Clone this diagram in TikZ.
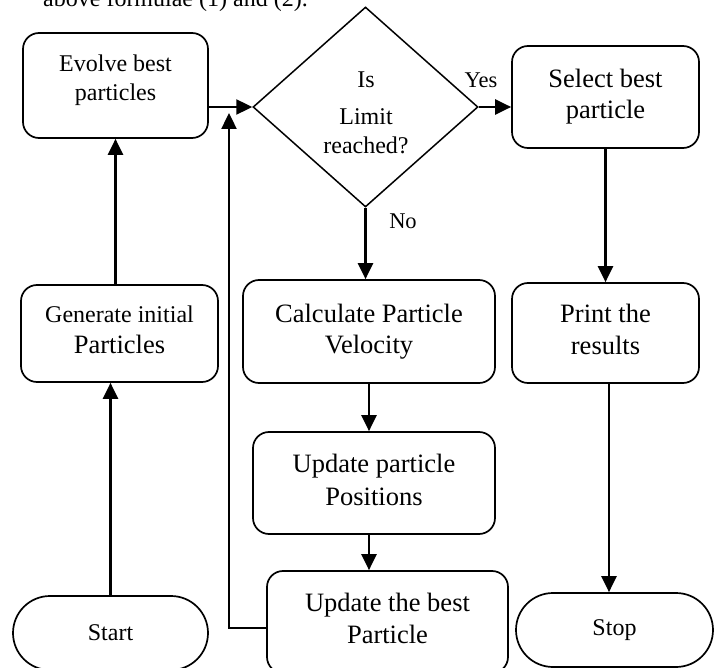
\documentclass[tikz,border=0pt]{standalone}
\usepackage{fontspec}
\setmainfont{Liberation Serif}
\usetikzlibrary{shapes.geometric,shapes.misc,arrows.meta}
\newcommand{\fbig}{\fontsize{26.5}{31}\selectfont}
\newcommand{\fsmall}{\fontsize{24}{29}\selectfont}
\newcommand{\boxtext}[2]{\raisebox{#1}[\height][\depth]{\begin{tabular}{@{}c@{}}#2\end{tabular}}}
\begin{document}
\begin{tikzpicture}[x=1pt,y=-1pt,
  box/.style={draw,line width=1.7pt,rounded corners=16pt,align=center,inner sep=0pt,font=\fbig},
  term/.style={draw,line width=1.7pt,rounded rectangle,align=center,inner sep=0pt,font=\fsmall},
  dec/.style={draw,line width=1.5pt,diamond,inner sep=0pt},
  txt/.style={inner sep=0pt,font=\fsmall},
  arr/.style={line width=2.4pt,-{Triangle[length=16pt,width=15pt]}}
]
\useasboundingbox (0,0) rectangle (718,668);
\clip (0,0) rectangle (718,668);

\node[anchor=base west,inner sep=0pt,font=\fsmall] (toptext) at (43,7) {above formulae (1) and (2).};

\node[box,font=\fsmall,minimum width=185pt,minimum height=105pt] (evolve) at (115.5,85.5) {\boxtext{5pt}{Evolve best\\particles}};
\node[box,minimum width=197pt,minimum height=97pt] (gen) at (119.5,333.5) {\boxtext{2pt}{{\fsmall Generate initial}\\Particles}};
\node[term,minimum width=195pt,minimum height=74pt] (start) at (110.5,633) {Start};

\node[dec,minimum width=225pt,minimum height=200pt] (d) at (365.5,107) {};
\node[txt] (dis) at (366,80) {Is};
\node[txt] (dlimit) at (366,117) {Limit};
\node[txt] (dreached) at (366,145) {reached?};

\node[box,minimum width=252pt,minimum height=103pt] (calc) at (369,331.5) {\boxtext{0pt}{Calculate Particle\\Velocity}};
\node[box,minimum width=242pt,minimum height=102pt] (updpos) at (374,483) {\boxtext{0pt}{Update particle\\[2pt]Positions}};
\node[box,minimum width=241pt,minimum height=102pt] (updbest) at (387.5,622) {\boxtext{1pt}{Update the best\\[1pt]Particle}};

\node[box,minimum width=187pt,minimum height=102pt] (select) at (605.5,97) {\boxtext{0pt}{Select best\\particle}};
\node[box,minimum width=187pt,minimum height=100pt] (print) at (605.5,333) {\boxtext{1pt}{Print the\\[1pt]results}};
\node[term,minimum width=197pt,minimum height=74pt] (stop) at (614.5,630) {Stop};

\node[txt,font=\fontsize{22.5}{27}\selectfont] (yes) at (481,80) {Yes};
\node[txt,font=\fontsize{22.5}{27}\selectfont] (no) at (403,221) {No};

\coordinate (loop) at (229,113);

\draw[arr] (start.north) -- (start.north |- gen.south);
\draw[arr] (evolve.south |- gen.north) -- (evolve.south);
\draw[arr] (evolve.east |- d.west) -- (d.west);
\draw[arr] (d.east) -- (d.east -| select.west);
\draw[arr] (d.south) -- (d.south |- calc.north);
\draw[arr] (calc.south) -- (calc.south |- updpos.north);
\draw[arr] (calc.south |- updpos.south) -- (calc.south |- updbest.north);
\draw[arr] ([yshift=-6pt]updbest.west) -| (loop);
\draw[arr] (select.south) -- (select.south |- print.north);
\draw[arr] ([xshift=3.5pt]print.south) -- ([xshift=3.5pt]print.south |- stop.north);
\end{tikzpicture}
\end{document}
